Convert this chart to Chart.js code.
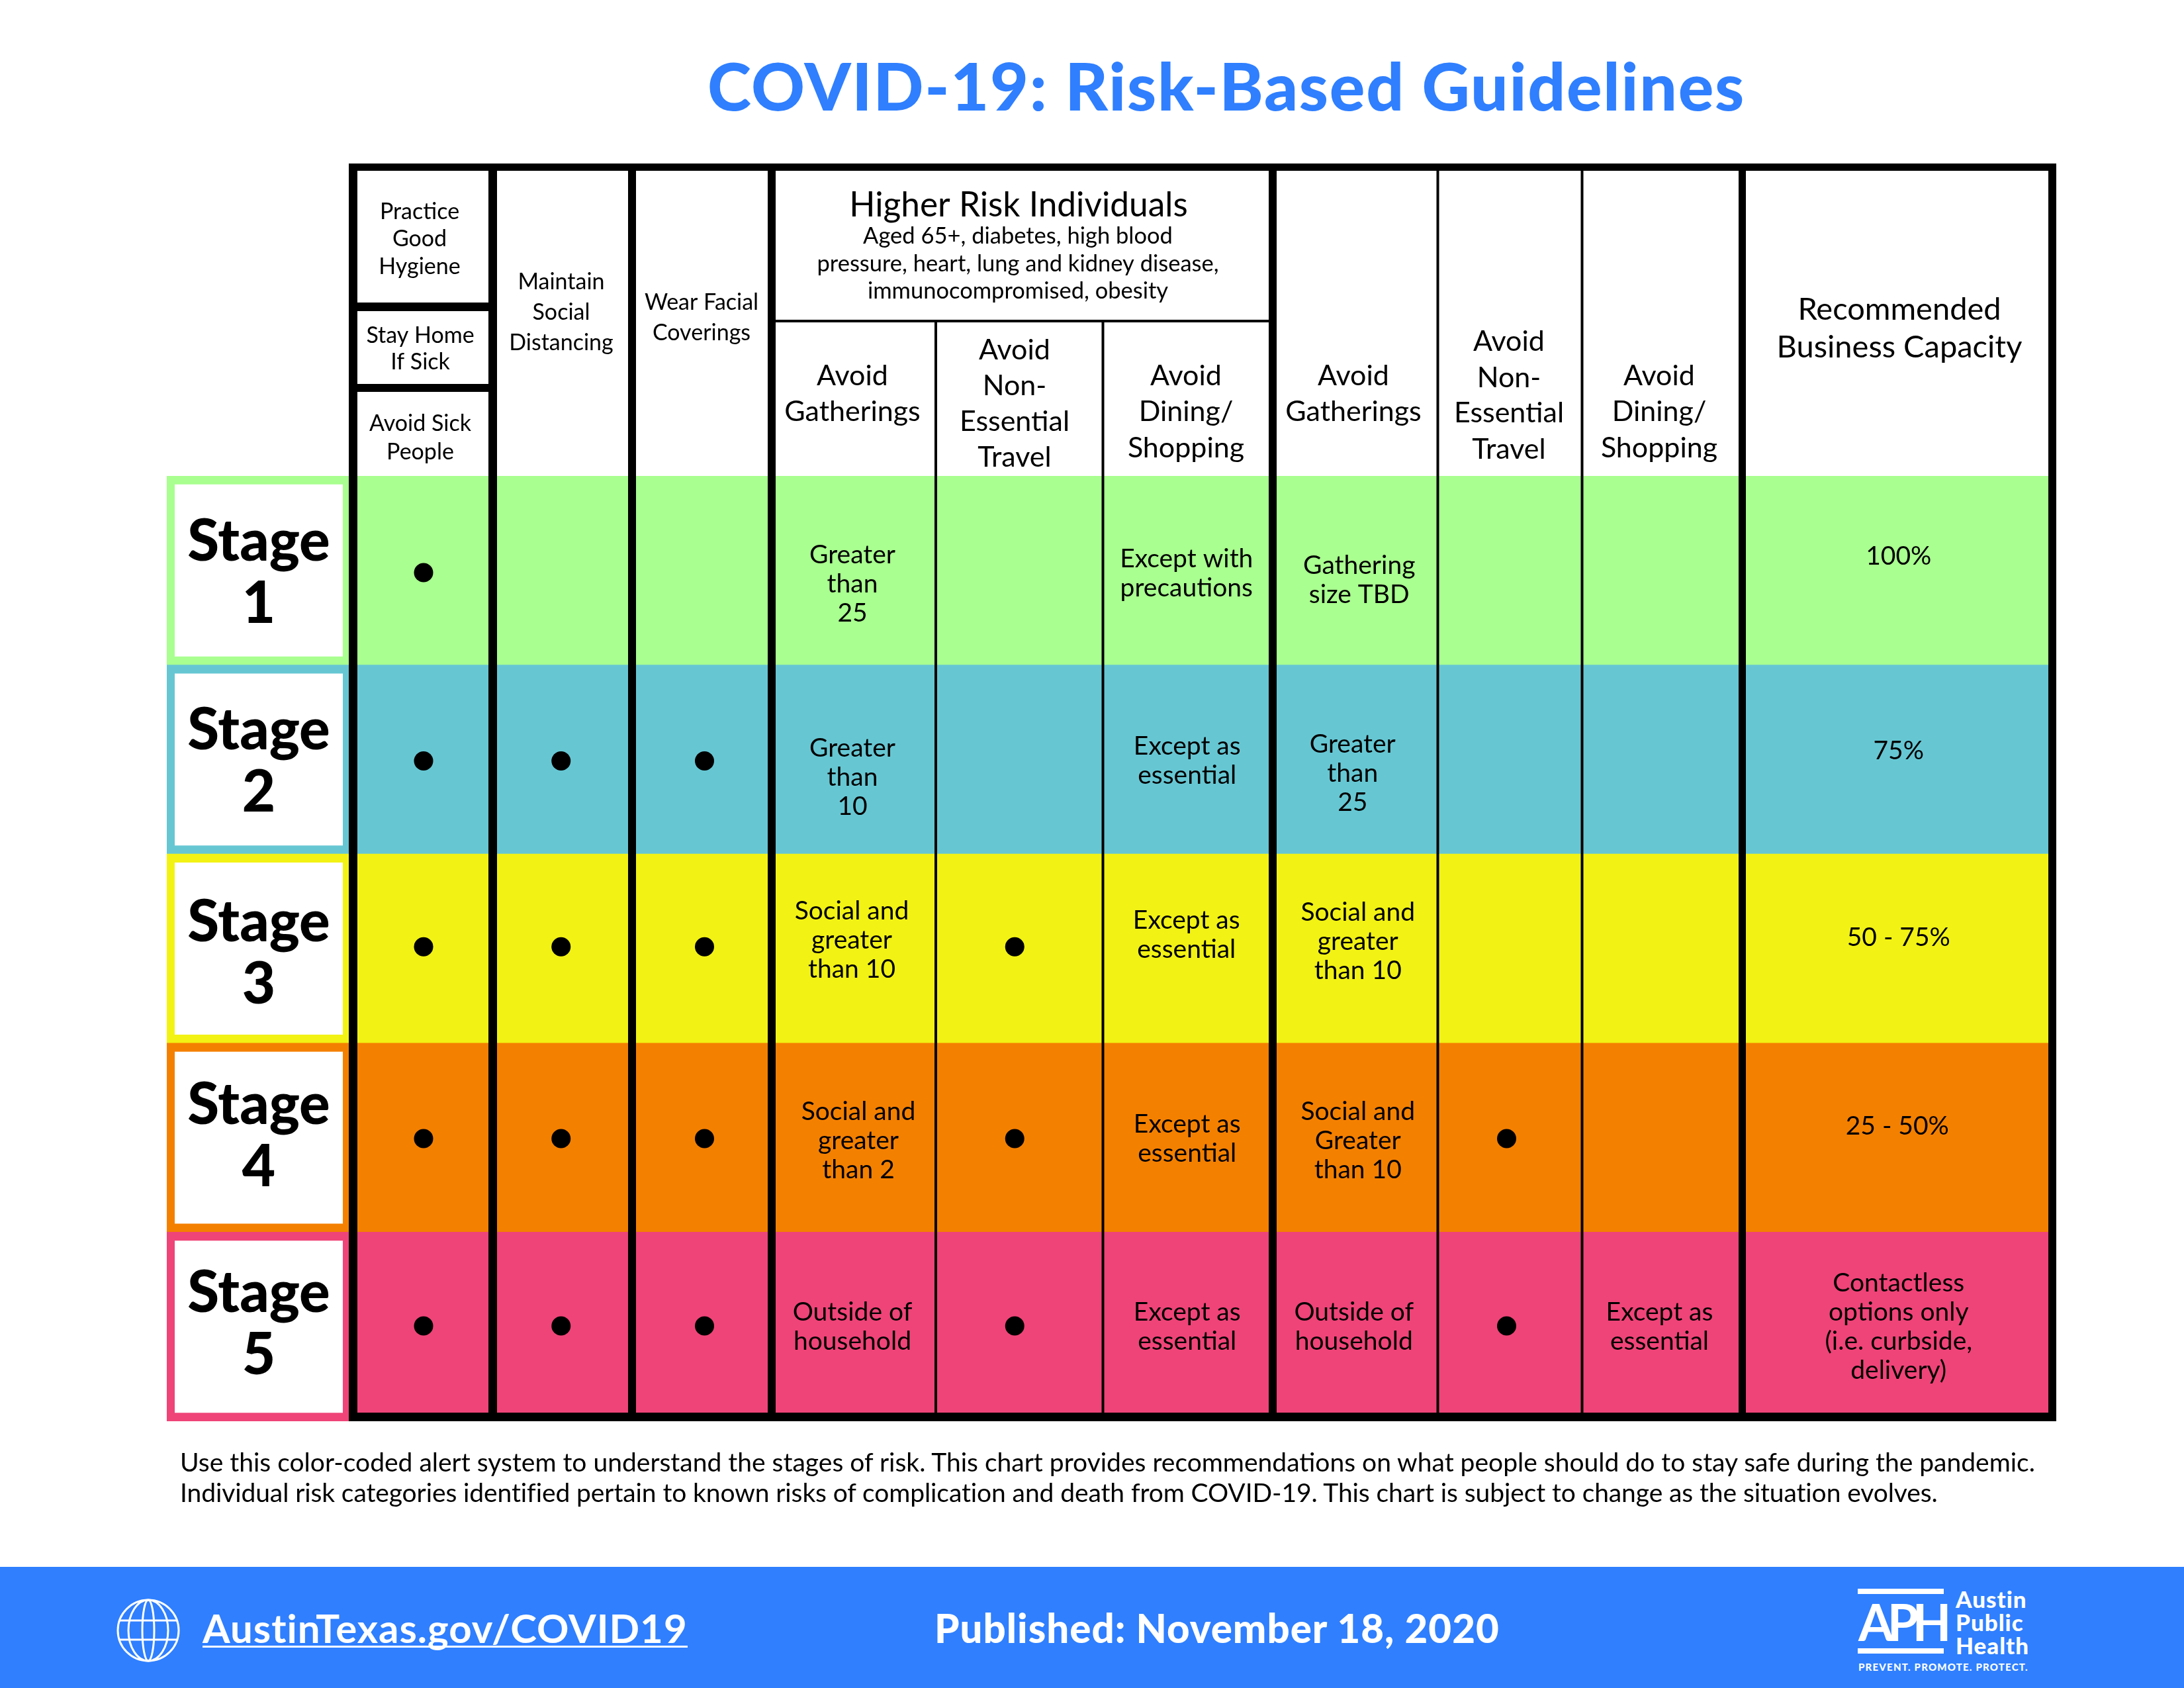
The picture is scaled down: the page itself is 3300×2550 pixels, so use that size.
<!DOCTYPE html>
<html>
<head>
<meta charset="utf-8">
<title>COVID-19: Risk-Based Guidelines</title>
<script src="https://cdn.jsdelivr.net/npm/chart.js@4"></script>
<style>
  html, body { margin: 0; padding: 0; background: #fff; }
  #page { position: relative; width: 3300px; height: 2550px; overflow: hidden; font-family: Lato, sans-serif; color: #000; }
  #page > * { position: absolute; }
  canvas { left: 0; top: 0; }
  .t { white-space: nowrap; }
  #title { left: 1069px; top: 63px; font-size: 100px; line-height: 130px; font-weight: 900; letter-spacing: 1.75px; color: #2f7fff; }
  .note { left: 272px; font-size: 39px; line-height: 46px; }
  #footer { left: 0; top: 2367px; width: 3300px; height: 183px; background: #2f7fff; }
  #url { left: 306px; top: 2424px; font-size: 60px; line-height: 70px; font-weight: 700; letter-spacing: 1px; color: #fff; border-bottom: 3px solid #fff; height: 62px; }
  #published { left: 1412px; top: 2424px; font-size: 60px; line-height: 70px; font-weight: 900; letter-spacing: 1px; color: #fff; }
  .bar { left: 2807px; width: 130px; height: 8px; background: #fff; }
  #aph { left: 2808px; top: 2408px; font-size: 76px; line-height: 84px; font-weight: 700; letter-spacing: -9px; color: #fff; }
  .org { left: 2955px; font-size: 35px; line-height: 35px; font-weight: 900; color: #fff; letter-spacing: 1px; }
  #tag { left: 2808px; top: 2510px; font-size: 15px; line-height: 16px; font-weight: 900; color: #fff; letter-spacing: 1.2px; }
</style>
</head>
<body>
<div id="page">
  <div id="title" class="t">COVID-19: Risk-Based Guidelines</div>
  <canvas id="chart" width="3300" height="2550"></canvas>
  <div class="note t" style="top:2185px">Use this color-coded alert system to understand the stages of risk. This chart provides recommendations on what people should do to stay safe during the pandemic.</div>
  <div class="note t" style="top:2231px;letter-spacing:-0.1px">Individual risk categories identified pertain to known risks of complication and death from COVID-19. This chart is subject to change as the situation evolves.</div>
  <div id="footer"></div>
  <svg style="left:176px;top:2415px" width="96" height="96" viewBox="0 0 96 96" fill="none" stroke="#fff" stroke-width="3">
    <circle cx="48" cy="48" r="46"/>
    <ellipse cx="48" cy="48" rx="30" ry="46"/>
    <ellipse cx="48" cy="48" rx="9" ry="46"/>
    <path d="M5 33H91M5 62H91"/>
  </svg>
  <div id="url" class="t">AustinTexas.gov/COVID19</div>
  <div id="published" class="t">Published: November 18, 2020</div>
  <div class="bar" style="top:2400px"></div>
  <div class="bar" style="top:2490px"></div>
  <div id="aph" class="t">APH</div>
  <div class="org t" style="top:2398px">Austin</div>
  <div class="org t" style="top:2433px">Public</div>
  <div class="org t" style="top:2468px">Health</div>
  <div id="tag" class="t">PREVENT. PROMOTE. PROTECT.</div>
</div>
<script>
// data
const stages = ['Stage 1', 'Stage 2', 'Stage 3', 'Stage 4', 'Stage 5'];
const stageColors = ['#a9ff8f', '#66c7d3', '#f2f214', '#f48000', '#ef4478'];

const hygiene    = [1, 1, 1, 1, 1];
const distancing = [0, 1, 1, 1, 1];
const coverings  = [0, 1, 1, 1, 1];
const travelHigh = [0, 0, 1, 1, 1];
const travelAll  = [0, 0, 0, 1, 1];

const gatherHigh = [['Greater', 'than', '25'], ['Greater', 'than', '10'], ['Social and', 'greater', 'than 10'], ['Social and', 'greater', 'than 2'], ['Outside of', 'household']];
const diningHigh = [['Except with', 'precautions'], ['Except as', 'essential'], ['Except as', 'essential'], ['Except as', 'essential'], ['Except as', 'essential']];
const gatherAll  = [['Gathering', 'size TBD'], ['Greater', 'than', '25'], ['Social and', 'greater', 'than 10'], ['Social and', 'Greater', 'than 10'], ['Outside of', 'household']];
const diningAll  = [[], [], [], [], ['Except as', 'essential']];
const capacity   = [['100%'], ['75%'], ['50 - 75%'], ['25 - 50%'], ['Contactless', 'options only', '(i.e. curbside,', 'delivery)']];

// layout: widths of the 10 columns and small hand nudges, all in page pixels
const colWidths = [211, 210.5, 211, 248, 252.5, 256.5, 249.5, 218, 242, 468.5];
const rowLabelWidth = 281.5;
const total = colWidths.reduce((a, b) => a + b, 0);
const edge = i => colWidths.slice(0, i).reduce((a, b) => a + b, 0);
const center = i => edge(i) + colWidths[i] / 2;

const dotColumns = [hygiene, distancing, coverings, null, travelHigh, null, null, travelAll, null, null];
const dotNudge = [1, -2, 4, 0, -7, 0, 0, -5, 0, 0];
const dotRowNudge = [0.011, 0.007, -0.010, 0.005, -0.004];

const textColumns = [
  { col: 3, cells: gatherHigh, dx: [-2, -2, -3, 7, -2], dy: [19, 25, -15, 3, -2] },
  { col: 5, cells: diningHigh, dx: [-2, -1, -2, -1, -1], dy: [3, 0, -23, 0, -2] },
  { col: 6, cells: gatherAll,  dx: [6, -4, 4, 4, -2], dy: [13, 19, -13, 3, -2] },
  { col: 8, cells: diningAll,  dx: [0, 0, 0, 0, -4], dy: [0, 0, 0, 0, -2] },
  { col: 9, cells: capacity,   dx: [2, 2, 2, 0, 2], dy: [-23, -15, -19, -19, -2] }
];
const stageNudge = [2, 2, 6, -4, -5];

const headers = [
  { x: 634,  lines: [['Practice', 318], ['Good', 359], ['Hygiene', 401]], size: 34 },
  { x: 635,  lines: [['Stay Home', 505], ['If Sick', 545]], size: 34 },
  { x: 635,  lines: [['Avoid Sick', 638], ['People', 681]], size: 34 },
  { x: 848,  lines: [['Maintain', 424], ['Social', 470], ['Distancing', 516]], size: 34 },
  { x: 1060, lines: [['Wear Facial', 455], ['Coverings', 501]], size: 34 },
  { x: 1539, lines: [['Higher Risk Individuals', 308]], size: 51.4 },
  { x: 1538, lines: [['Aged 65+, diabetes, high blood', 355], ['pressure, heart, lung and kidney disease,', 397], ['immunocompromised, obesity', 438]], size: 34.5 },
  { x: 1288, lines: [['Avoid', 566], ['Gatherings', 620]], size: 43 },
  { x: 1533, lines: [['Avoid', 527], ['Non-', 581], ['Essential', 635], ['Travel', 689]], size: 43 },
  { x: 1792, lines: [['Avoid', 566], ['Dining/', 620], ['Shopping', 675]], size: 43 },
  { x: 2045, lines: [['Avoid', 566], ['Gatherings', 620]], size: 43 },
  { x: 2280, lines: [['Avoid', 514], ['Non-', 569], ['Essential', 622], ['Travel', 677]], size: 43 },
  { x: 2507, lines: [['Avoid', 566], ['Dining/', 620], ['Shopping', 675]], size: 43 },
  { x: 2870, lines: [['Recommended', 466], ['Business Capacity', 523]], size: 47 }
];

// vertical rules: [column edge index, width, top in page pixels]
const rules = [[0, 13, 247], [1, 13, 247], [2, 12, 247], [3, 12, 247], [4, 4, 483], [5, 4, 483], [6, 12, 247], [7, 4, 247], [8, 4, 247], [9, 11, 247], [10, 12, 247]];

const dots = [];
dotColumns.forEach((marks, c) => {
  if (!marks) return;
  marks.forEach((on, r) => { if (on) dots.push({ x: center(c) + dotNudge[c], y: r + dotRowNudge[r] }); });
});

const tablePlugin = {
  id: 'table',
  afterDatasetsDraw(chart) {
    const { ctx, scales: { x, y } } = chart;
    const top = 247, bottom = chart.chartArea.bottom, textDrop = 2;
    ctx.save();
    ctx.fillStyle = '#000';
    rules.forEach(([i, w, ruleTop]) => {
      ctx.fillRect(x.getPixelForValue(edge(i)) - w / 2, ruleTop, w, bottom - ruleTop);
    });
    const left = x.getPixelForValue(0) - 6.5, right = chart.chartArea.right;
    ctx.fillRect(left, top, right - left, 11);
    ctx.fillRect(left, bottom - 13, right - left, 13);
    ctx.fillRect(left, 457, x.getPixelForValue(edge(1)) - left, 13);
    ctx.fillRect(left, 580, x.getPixelForValue(edge(1)) - left, 12);
    ctx.fillRect(x.getPixelForValue(edge(3)), 483, x.getPixelForValue(edge(6)) - x.getPixelForValue(edge(3)), 4);

    ctx.textAlign = 'center';
    ctx.textBaseline = 'middle';
    headers.forEach(h => {
      ctx.font = '400 ' + h.size + 'px Lato';
      h.lines.forEach(([s, py]) => ctx.fillText(s, h.x, py + textDrop));
    });

    ctx.font = '400 39px Lato';
    const lineGap = 44;
    textColumns.forEach(t => {
      t.cells.forEach((lines, r) => {
        const cx = x.getPixelForValue(center(t.col)) + t.dx[r];
        const cy = y.getPixelForValue(r) + t.dy[r] + textDrop;
        lines.forEach((s, i) => ctx.fillText(s, cx, cy + (i - (lines.length - 1) / 2) * lineGap));
      });
    });

    ctx.font = '900 87px Lato';
    const stageX = x.getPixelForValue(-142.5);
    stages.forEach((s, r) => {
      const cy = y.getPixelForValue(r) + stageNudge[r] + textDrop;
      const [word, num] = s.split(' ');
      ctx.fillText(word, stageX, cy - 47);
      ctx.fillText(num, stageX, cy + 47);
    });
    ctx.restore();
  }
};

new Chart(document.getElementById('chart'), {
  type: 'bar',
  data: {
    labels: stages,
    datasets: [
      {
        type: 'scatter',
        yAxisID: 'yDots',
        data: dots,
        backgroundColor: '#000',
        borderWidth: 0,
        pointRadius: 14.5,
        order: 1
      },
      {
        data: stages.map(() => [-269.5, -15.5]),
        backgroundColor: '#fff',
        grouped: false,
        categoryPercentage: 1,
        barPercentage: 0.91,
        order: 2
      },
      {
        data: stages.map(() => [-rowLabelWidth, total + 6]),
        backgroundColor: stageColors,
        grouped: false,
        categoryPercentage: 1,
        barPercentage: 1,
        order: 3
      }
    ]
  },
  options: {
    indexAxis: 'y',
    responsive: false,
    devicePixelRatio: 1,
    animation: false,
    layout: { padding: { left: 252, right: 193, top: 719, bottom: 403 } },
    plugins: { legend: { display: false }, tooltip: { enabled: false } },
    scales: {
      x: { type: 'linear', min: -rowLabelWidth, max: total + 6, display: false },
      y: { type: 'category', offset: true, display: false },
      yDots: { type: 'linear', axis: 'y', offset: false, min: -0.5, max: 4.5, reverse: true, display: false }
    }
  },
  plugins: [tablePlugin]
});
</script>
</body>
</html>
